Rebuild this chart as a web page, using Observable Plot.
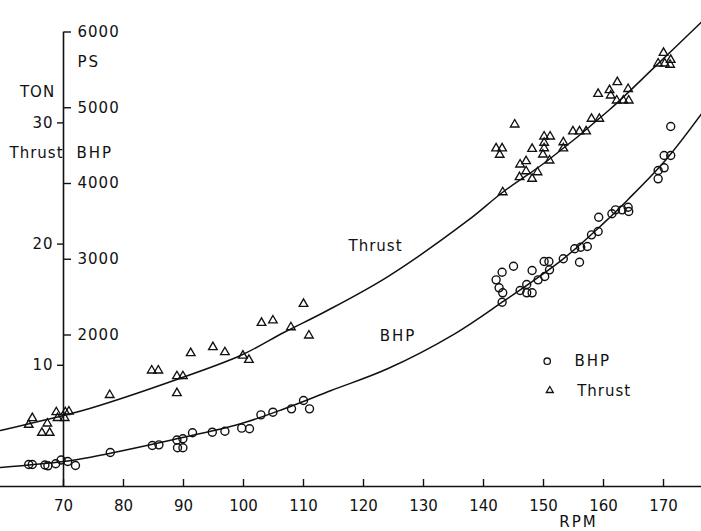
<!DOCTYPE html>
<html><head><meta charset="utf-8">
<script src="https://cdn.jsdelivr.net/npm/d3@7"></script>
<script src="https://cdn.jsdelivr.net/npm/@observablehq/plot@0.6"></script>
<style>
html,body{margin:0;padding:0;background:#fff;}
#chart svg{display:block;}
g[aria-label="y-axis tick label"] text{letter-spacing:1px;}
</style></head><body><div id="chart"></div>
<script>
// ---- scales / ticks ----
const xTicks = [70, 80, 90, 100, 110, 120, 130, 140, 150, 160, 170];
const tonTicks = [10, 20, 30];
const psTicks = [2000, 3000, 4000, 5000, 6000];
const PS_PER_TON = 160;          // 30 TON aligns with 4800 PS
const rpmSpan = [59.5, 176.33];  // extent of the RPM baseline
const psTop = 6000;

// ---- measured BHP (rpm, PS) ----
const bhpPoints = [
  [64.2,290],[64.8,290],[66.9,284],[67.4,273],[68.7,300],[69.6,350],[70.7,330],[72.0,277],
  [77.8,449],[84.8,541],[85.9,550],[88.9,614],[89.9,630],[89.0,511],[89.9,511],[91.5,709],
  [94.8,717],[96.9,730],[99.7,770],[101.0,762],[102.9,946],[104.9,981],[108.0,1025],[110.0,1135],[111.0,1025],
  [143.1,2829],[142.1,2728],[142.6,2623],[143.2,2557],[143.1,2433],[145.0,2908],[146.1,2587],[147.2,2666],
  [147.2,2557],[148.1,2557],[148.1,2851],[149.1,2728],[150.2,2772],[150.1,2970],[150.9,2970],[151.0,2860],
  [153.3,3006],[155.2,3138],[156.2,3159],[157.3,3168],[156.0,2961],[158.0,3322],[159.1,3366],[159.2,3555],
  [161.4,3600],[162.0,3652],[163.1,3652],[164.1,3687],[164.2,3630],[169.1,4062],[169.1,4171],[170.1,4207],
  [170.1,4369],[171.2,4369],[171.2,4752]
];

// ---- measured Thrust (rpm, TON) ----
const thrustPoints = [
  [64.8,5.64],[64.2,5.09],[67.3,5.20],[66.4,4.43],[67.7,4.43],[68.8,6.13],[70.3,6.13],[70.9,6.19],[69.0,5.65],[70.2,5.65],
  [77.7,7.55],[84.7,9.57],[85.8,9.57],[88.9,9.10],[89.9,9.10],[88.9,7.70],[91.2,11.0],[94.9,11.5],[96.9,11.08],
  [99.9,10.8],[100.9,10.45],[103.0,13.5],[104.9,13.7],[107.9,13.14],[110.0,15.07],[110.9,12.46],
  [145.2,29.87],[142.1,27.9],[143.1,27.9],[142.7,27.37],[143.2,24.28],[146.1,26.57],[147.1,26.84],[146.0,25.52],
  [147.1,26.01],[148.1,25.39],[149.0,25.93],[150.1,28.88],[151.1,28.88],[150.1,28.36],[150.1,27.91],[149.9,27.39],
  [151.0,26.9],[148.1,27.86],[153.3,28.4],[153.3,27.9],[154.9,29.3],[156.0,29.3],[157.1,29.3],[158.0,30.34],
  [159.3,30.34],[159.1,32.4],[161.0,32.7],[161.2,32.26],[162.3,33.36],[164.1,32.8],[162.2,31.85],[163.3,31.85],
  [164.2,31.85],[170.0,35.78],[169.1,34.9],[170.2,34.9],[171.2,35.2],[171.1,34.8]
];

// ---- fitted curves ----
const thrustCurve = [
  [59.5,4.62],[70,5.86],[74.5,6.46],[88.4,8.75],[99.5,10.81],[106.8,12.73],[113.5,14.4],[124.0,17.3],
  [137.4,21.95],[143.2,24.28],[150.7,26.9],[160.8,31.0],[168.5,34.6],[176.5,38.4]
];
const bhpCurve = [
  [59.5,251],[70,330],[74.5,387],[88.4,620],[99.5,828],[106.8,1026],[114.6,1267],[124.0,1554],
  [135.2,2016],[143.1,2433],[153.3,3006],[160.2,3490],[164.1,3790],[170.3,4303],[176.5,4937]
];

// ---- labels ----
const curveLabels = [
  {text: "Thrust", rpm: 122, ps: 3168},
  {text: "BHP", rpm: 125.75, ps: 1980}
];

const ink = "#111";
const T = {fontSize: 15, lineAnchor: "middle"};
const chart = Plot.plot({
  width: 701, height: 531,
  marginLeft: 63, marginRight: 0, marginTop: 31.5, marginBottom: 45,
  style: {fontFamily: "DejaVu Sans", fontSize: "15px", color: ink, background: "#fff"},
  x: {domain: [70, rpmSpan[1]]},
  y: {domain: [0, psTop]},
  marks: [
    // baseline and vertical axis line
    Plot.ruleY([0], {x1: rpmSpan[0], x2: rpmSpan[1], strokeWidth: 1.6}),
    Plot.ruleX([70], {y1: 0, y2: psTop, strokeWidth: 1.6}),
    // x axis (ticks point up)
    Plot.axisX(xTicks, {anchor: "bottom", tickSize: -7, tickPadding: 21, strokeWidth: 1.4, label: null, fontSize: 15}),
    // TON axis on the left of the line
    Plot.axisY(tonTicks.map(t => t * PS_PER_TON), {anchor: "left", tickSize: 6, tickPadding: 4, strokeWidth: 1.4,
      tickFormat: d => String(Math.round(d / PS_PER_TON)), label: null, fontSize: 15}),
    // PS axis on the right of the line
    Plot.axisY(psTicks, {anchor: "right", dx: -638, tickSize: 7, tickPadding: 7, strokeWidth: 1.4,
      tickFormat: d => String(d), label: null, fontSize: 15}),
    // axis titles
    Plot.text(["TON"], {...T, frameAnchor: "top-left", dx: -26, dy: 60.5, textAnchor: "middle"}),
    Plot.text(["Thrust"], {...T, frameAnchor: "top-left", dx: -27, dy: 121.5, textAnchor: "middle"}),
    Plot.text(["PS"], {...T, frameAnchor: "top-left", dx: 14, dy: 30.5, textAnchor: "start"}),
    Plot.text(["BHP"], {...T, frameAnchor: "top-left", dx: 13, dy: 121.5, textAnchor: "start"}),
    Plot.text(["RPM"], {...T, frameAnchor: "bottom-left", dx: 515, dy: 35.5, textAnchor: "middle"}),
    // curves
    Plot.line(thrustCurve, {x: d => d[0], y: d => d[1] * PS_PER_TON, curve: "catmull-rom", strokeWidth: 1.5}),
    Plot.line(bhpCurve, {x: d => d[0], y: d => d[1], curve: "catmull-rom", strokeWidth: 1.5}),
    // points
    Plot.dot(bhpPoints, {x: d => d[0], y: d => d[1], r: 4, stroke: ink, strokeWidth: 1.4, fill: "none"}),
    Plot.dot(thrustPoints, {x: d => d[0], y: d => d[1] * PS_PER_TON, symbol: "triangle", r: 3.2, stroke: ink, strokeWidth: 1.35, fill: "none"}),
    // curve labels
    Plot.text(curveLabels, {...T, x: "rpm", y: "ps", text: "text", textAnchor: "middle"}),
    // legend
    Plot.dot([0], {frameAnchor: "top-left", dx: 483.7, dy: 329.2, r: 3.2, stroke: ink, strokeWidth: 1.3, fill: "none"}),
    Plot.text(["BHP"], {...T, frameAnchor: "top-left", dx: 511, dy: 329.5, textAnchor: "start"}),
    Plot.dot([0], {frameAnchor: "top-left", dx: 486.3, dy: 358.5, symbol: "triangle", r: 2.6, stroke: ink, strokeWidth: 1.3, fill: "none"}),
    Plot.text(["Thrust"], {...T, frameAnchor: "top-left", dx: 513.7, dy: 359.5, textAnchor: "start"})
  ]
});
document.getElementById("chart").append(chart);
// letter spacing on the spaced labels
d3.select(chart).selectAll("text").filter(function() { return ["BHP", "RPM", "PS"].includes(this.textContent); })
  .attr("letter-spacing", "2px");
d3.select(chart).selectAll("text").filter(function() { return ["Thrust", "TON"].includes(this.textContent); })
  .attr("letter-spacing", "1px");
</script>
</body></html>
